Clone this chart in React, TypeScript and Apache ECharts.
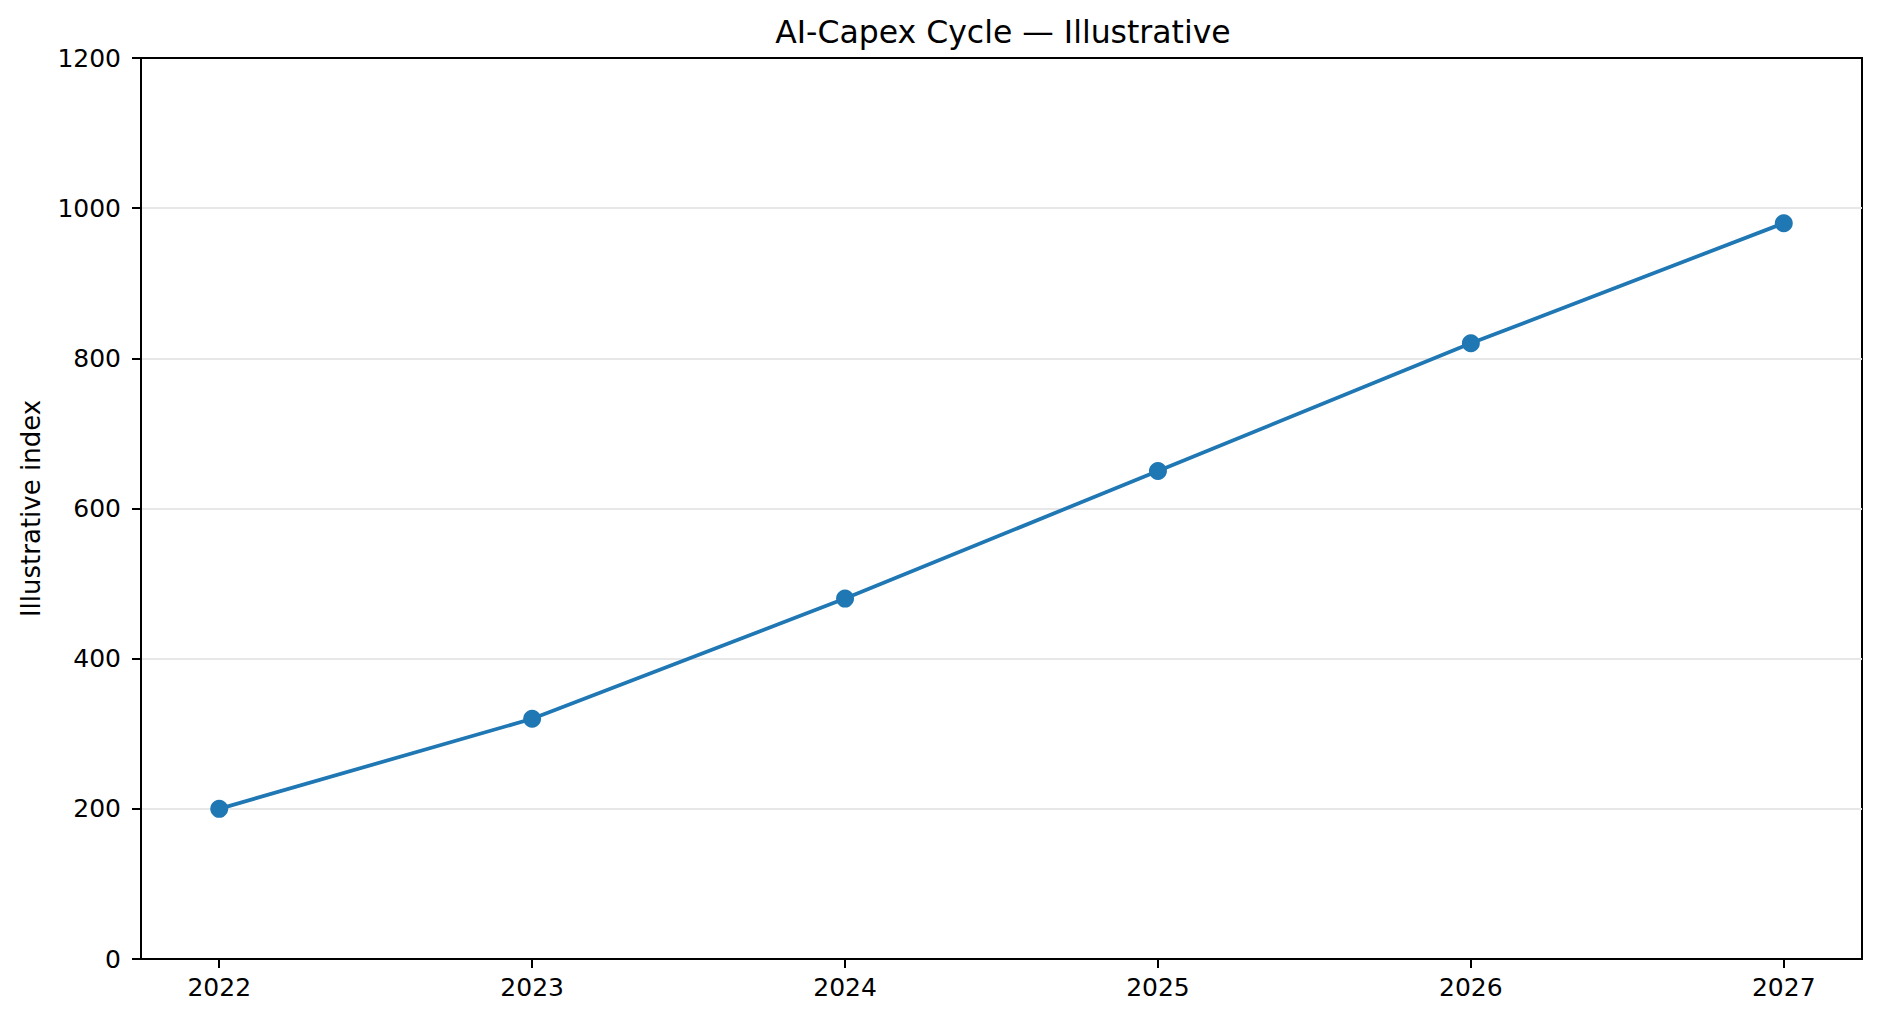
import React, { useEffect, useRef } from 'react';
import * as echarts from 'echarts';

// chart data
const years = [2022, 2023, 2024, 2025, 2026, 2027];
const indexValues = [200, 320, 480, 650, 820, 980];
const yTicks = { min: 0, max: 1200, step: 200 };

const FONT = 'DejaVu Sans';

const App: React.FC = () => {
  const ref = useRef<HTMLDivElement>(null);

  useEffect(() => {
    document.body.style.margin = '0';
    if (!ref.current) return;
    const chart = echarts.init(ref.current, undefined, { renderer: 'svg' });

    const option: echarts.EChartsCoreOption = {
      animation: false,
      backgroundColor: '#fff',
      title: {
        text: 'AI-Capex Cycle — Illustrative',
        left: 998,
        textAlign: 'center',
        top: 11,
        textStyle: { fontFamily: FONT, fontSize: 31.5, fontWeight: 'normal', color: '#000' }
      },
      grid: {
        left: 141,
        right: 18,
        top: 58,
        bottom: 63,
        show: true,
        borderColor: '#000',
        borderWidth: 2,
        backgroundColor: 'transparent'
      },
      xAxis: {
        type: 'value',
        min: 2021.75,
        max: 2027.25,
        axisLine: { show: true, lineStyle: { color: '#000', width: 2 } },
        splitLine: { show: false },
        axisTick: {
          show: true,
          length: 9,
          customValues: years,
          lineStyle: { color: '#000', width: 2 }
        },
        axisLabel: {
          customValues: years,
          margin: 16,
          fontFamily: FONT,
          fontSize: 25,
          color: '#000',
          formatter: (v: number) => String(v)
        }
      },
      yAxis: {
        type: 'value',
        min: yTicks.min,
        max: yTicks.max,
        interval: yTicks.step,
        name: 'Illustrative index',
        nameLocation: 'middle',
        nameRotate: 90,
        nameGap: 97,
        nameTextStyle: { fontFamily: FONT, fontSize: 26, color: '#000' },
        axisLine: { show: true, lineStyle: { color: '#000', width: 2 } },
        axisTick: { show: true, length: 9, lineStyle: { color: '#000', width: 2 } },
        axisLabel: {
          margin: 20,
          fontFamily: FONT,
          fontSize: 25,
          color: '#000',
          formatter: (v: number) => String(v)
        },
        splitLine: {
          show: true,
          showMinLine: false,
          showMaxLine: false,
          lineStyle: { color: '#e7e7e7', width: 2 }
        }
      },
      series: [
        {
          type: 'line',
          data: years.map((y, i) => [y, indexValues[i]]),
          symbol: 'circle',
          symbolSize: 18,
          showSymbol: true,
          lineStyle: { color: '#1f77b4', width: 3.75 },
          itemStyle: { color: '#1f77b4' },
          z: 3
        }
      ]
    };

    chart.setOption(option);
    return () => {
      chart.dispose();
    };
  }, []);

  return <div ref={ref} style={{ width: '1880px', height: '1022px' }} />;
};

export default App;
